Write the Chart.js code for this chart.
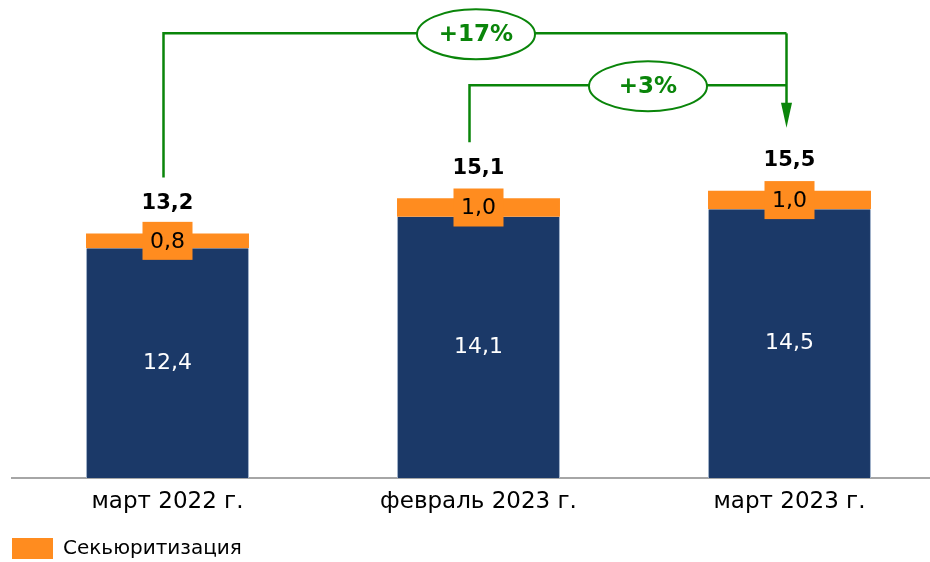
<!DOCTYPE html>
<html>
<head>
<meta charset="utf-8">
<script src="https://cdn.jsdelivr.net/npm/chart.js@4/dist/chart.umd.min.js"></script>
<style>
  html, body { margin: 0; padding: 0; background: #fff; overflow: hidden; }
  #wrap { width: 950px; height: 562px; }
</style>
</head>
<body>
<div id="wrap"><canvas id="c" width="950" height="562"></canvas></div>
<script>
const categories = ['март 2022 г.', 'февраль 2023 г.', 'март 2023 г.'];
const baseValues = [12.4, 14.1, 14.5];
const securValues = [0.8, 1.0, 1.0];
const totals = [13.2, 15.1, 15.5];
const growthLabels = ['+17%', '+3%'];

const NAVY = '#1b3968';
const ORANGE = '#ff8c1f';
const GREEN = '#0a850a';
const FONT = '"DejaVu Sans", Verdana, sans-serif';

const fmt = v => v.toFixed(1).replace('.', ',');

// value labels: white inside navy, black on orange box, bold totals above
const labelsPlugin = {
    id: 'labels',
    afterDatasetsDraw(chart) {
        const ctx = chart.ctx;
        const base = chart.getDatasetMeta(0).data;
        const top = chart.getDatasetMeta(1).data;
        ctx.save();
        ctx.textAlign = 'center';
        ctx.textBaseline = 'middle';
        base.forEach((bar, i) => {
            ctx.font = '22px ' + FONT;
            ctx.fillStyle = '#fff';
            ctx.fillText(fmt(baseValues[i]), bar.x, (bar.y + bar.base) / 2);
        });
        top.forEach((bar, i) => {
            const cy = (bar.y + bar.base) / 2;
            ctx.fillStyle = ORANGE;
            ctx.fillRect(bar.x - 25, cy - 19, 50, 38);
            ctx.font = '22px ' + FONT;
            ctx.fillStyle = '#000';
            ctx.fillText(fmt(securValues[i]), bar.x, cy + 1);
            ctx.font = 'bold 21px ' + FONT;
            ctx.fillText(fmt(totals[i]), bar.x, bar.y - 30);
        });
        ctx.restore();
    }
};

// growth brackets with ellipse captions
const arrowsPlugin = {
    id: 'arrows',
    afterDatasetsDraw(chart) {
        const ctx = chart.ctx;
        const y = chart.scales.y;
        const bars = chart.getDatasetMeta(1).data;
        const links = [
            { from: 0, to: 2, level: 24.0, dx: -4, ex: 476, label: growthLabels[0] },
            { from: 1, to: 2, level: 21.2, dx: -9, ex: 648, label: growthLabels[1] },
        ];
        const endX = bars[2].x - 3;
        ctx.save();
        ctx.strokeStyle = GREEN;
        ctx.fillStyle = GREEN;
        ctx.lineWidth = 2.5;
        links.forEach(l => {
            const sx = bars[l.from].x + l.dx;
            const ly = y.getPixelForValue(l.level);
            ctx.beginPath();
            ctx.moveTo(sx, bars[l.from].y - 56);
            ctx.lineTo(sx, ly);
            ctx.lineTo(endX, ly);
            ctx.stroke();
        });
        // down arrow into the last bar
        const topY = y.getPixelForValue(links[0].level);
        const tip = bars[2].y - 63;
        ctx.beginPath();
        ctx.moveTo(endX, topY);
        ctx.lineTo(endX, tip - 20);
        ctx.stroke();
        ctx.beginPath();
        ctx.moveTo(endX - 5.5, tip - 25);
        ctx.lineTo(endX + 5.5, tip - 25);
        ctx.lineTo(endX, tip);
        ctx.closePath();
        ctx.fill();
        ctx.lineWidth = 2;
        links.forEach(l => {
            const ly = y.getPixelForValue(l.level) + 1;
            ctx.beginPath();
            ctx.ellipse(l.ex, ly, 59, 25, 0, 0, Math.PI * 2);
            ctx.fillStyle = '#fff';
            ctx.fill();
            ctx.stroke();
            ctx.fillStyle = GREEN;
            ctx.font = 'bold 23px ' + FONT;
            ctx.textAlign = 'center';
            ctx.textBaseline = 'middle';
            ctx.fillText(l.label, l.ex, ly + 1);
        });
        ctx.restore();
    }
};

new Chart(document.getElementById('c'), {
    type: 'bar',
    data: {
        labels: categories,
        datasets: [
            {
                label: 'base',
                data: baseValues,
                backgroundColor: NAVY,
                borderColor: '#9fb0c8',
                borderWidth: { left: 1, right: 1, top: 0, bottom: 0 },
                barPercentage: 0.524,
                categoryPercentage: 1,
            },
            {
                label: 'Секьюритизация',
                data: securValues,
                backgroundColor: ORANGE,
                barPercentage: 0.524,
                categoryPercentage: 1,
            },
        ],
    },
    options: {
        responsive: false,
        animation: false,
        layout: { padding: { left: 12, right: 5, top: 0, bottom: -7 } },
        plugins: {
            legend: {
                position: 'bottom',
                align: 'start',
                labels: {
                    filter: item => item.datasetIndex === 1,
                    boxWidth: 41,
                    boxHeight: 21,
                    color: '#000',
                    font: { family: FONT, size: 20 },
                    padding: 0,
                },
            },
            tooltip: { enabled: false },
        },
        scales: {
            x: {
                stacked: true,
                grid: { display: false },
                border: { color: '#a6a6a6', width: 2 },
                ticks: { color: '#000', font: { family: FONT, size: 23 }, padding: 2 },
                afterFit(scale) { scale.height = 60; },
            },
            y: {
                stacked: true,
                display: false,
                min: 0,
                max: 25.8,
            },
        },
    },
    plugins: [labelsPlugin, arrowsPlugin],
});
</script>
</body>
</html>
